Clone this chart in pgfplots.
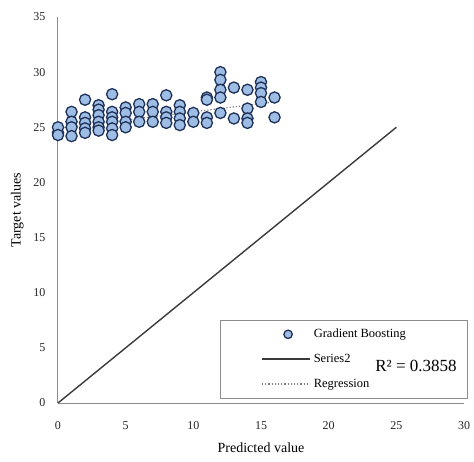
\documentclass[border=0pt]{standalone}
\usepackage{pgfplots}
\pgfplotsset{compat=1.18}
\usepackage{fontspec}
\setmainfont{Liberation Serif}

\definecolor{markfill}{HTML}{9DBDE5}
\definecolor{markedge}{HTML}{1F3158}
\definecolor{axisgray}{HTML}{8C8C8C}
\definecolor{linegray}{HTML}{3A3A3A}
\definecolor{reggray}{HTML}{7F7F7F}

\pgfplotstableread{
x y
0 24.5
0 25.0
0 24.3
1 26.4
1 25.5
1 25.0
1 24.2
2 27.5
2 25.9
2 25.4
2 24.9
2 24.5
3 27.0
3 26.6
3 26.1
3 25.5
3 25.0
3 24.7
4 28.0
4 26.4
4 25.9
4 25.5
4 24.9
4 24.3
5 26.8
5 26.3
5 25.5
5 25.0
6 27.1
6 26.4
6 25.5
7 27.1
7 26.4
7 25.5
8 27.9
8 26.4
8 25.9
8 25.4
9 27.0
9 26.4
9 25.8
9 25.2
10 26.3
10 25.5
11 27.7
11 27.5
11 25.9
11 25.4
12 30.0
12 29.3
12 28.4
12 27.7
12 26.3
13 28.6
13 25.8
14 28.4
14 26.7
14 25.8
14 25.4
15 29.1
15 28.6
15 28.1
15 27.3
16 27.7
16 25.9
}\gbdata

% legend pictograms: wide line samples and a single centred marker
\pgfplotsset{
  wide line sample/.style={legend image code/.code={%
      \path (0pt,0pt) (89pt,0pt);
      \draw[##1, line width=1.8pt] (40pt,0pt) -- (88pt,0pt);}},
  single mark sample/.style={legend image code/.code={%
      \path (0pt,0pt) (89pt,0pt);
      \draw[##1, mark size=4.2pt] plot coordinates {(66pt,0pt)};}},
}

\begin{document}
\begin{tikzpicture}
\useasboundingbox (-58pt,-58pt) rectangle (416pt,403pt);
\begin{axis}[
  scale only axis,
  width=406pt, height=386pt,
  xmin=0, xmax=30, ymin=0, ymax=35,
  xtick={0,5,...,30}, ytick={0,5,...,35},
  axis x line*=bottom, axis y line*=left,
  axis line style={axisgray, line width=1pt, -},
  major tick length=0pt,
  tick label style={font=\fontsize{12}{14}\selectfont, color=black!85},
  xticklabel style={yshift=-15pt},
  yticklabel style={xshift=-9pt},
  /pgf/number format/assume math mode=true,
  xlabel={Predicted value}, ylabel={Target values},
  label style={font=\fontsize{14}{16}\selectfont},
  xlabel style={at={(axis description cs:0.5,-0.117)}, anchor=center},
  ylabel style={at={(axis description cs:-0.1,0.5)}, anchor=center},
  clip=false,
  legend cell align=left,
  legend style={at={(0.399,0.012)}, anchor=south west,
    draw=axisgray, line width=0.8pt, inner xsep=1pt, inner ysep=7pt,
    font=\fontsize{12.5}{15}\selectfont, row sep=11pt},
]
\addplot[only marks, mark=*, mark size=5.6pt,
  mark options={fill=markfill, draw=markedge, line width=1.3pt},
  single mark sample]
  table[x=x, y=y] {\gbdata};
\addlegendentry{\makebox[151pt][l]{Gradient Boosting}}
\addplot[linegray, line width=1.4pt, wide line sample] coordinates {(0,0) (25,25)};
\addlegendentry{Series2}
\addplot[reggray, dotted, line width=1.2pt, wide line sample] coordinates {(0,24.9) (16,27.3)};
\addlegendentry{Regression}
\end{axis}
% trendline statistic, set over the legend box
\node[font=\fontsize{17}{19}\selectfont] at (358pt,37pt) {R² = 0.3858};
\end{tikzpicture}
\end{document}
